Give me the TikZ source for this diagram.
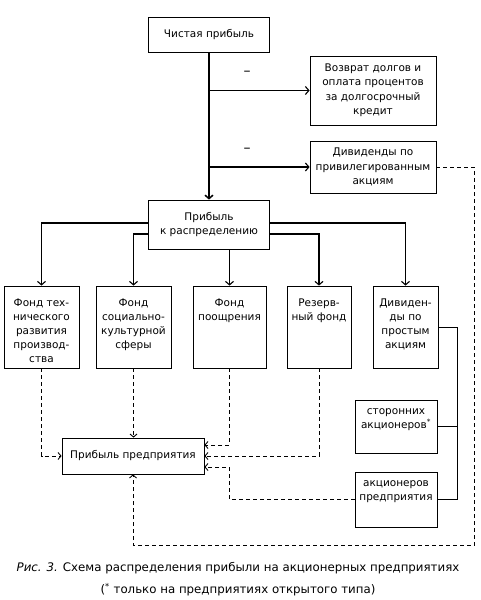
\documentclass[tikz,border=0pt]{standalone}
\usepackage{fontspec}
\setmainfont{DejaVu Sans}
\usetikzlibrary{arrows.meta,positioning}
\tikzstyle{blk} = [draw, line width=0.8pt, align=center, inner sep=0pt, font=\fontsize{10.5}{14.5}\selectfont]
\tikzstyle{fund} = [draw, line width=0.8pt, inner sep=0pt, font=\fontsize{10.5}{14}\selectfont]
\tikzstyle{caption} = [align=center, font=\fontsize{11.8}{22}\selectfont]
\tikzstyle{minus} = [font=\fontsize{14}{14}\selectfont, inner sep=0pt]
\tikzstyle{arrow} = [draw, line width=1.1pt, -{Straight Barb[length=3.5pt,width=8pt]}]
\tikzstyle{trunk} = [arrow, line width=1.5pt]
\tikzstyle{dashline} = [draw, line width=0.9pt, dash pattern=on 4pt off 3pt, -{Straight Barb[length=3pt,width=7pt]}]
\tikzstyle{link} = [draw, line width=0.8pt]
\newcommand{\blk}[4]{node (#1) [blk, minimum width=#2, minimum height=#3] {#4}}
\newcommand{\fund}[3]{node (f#1) [fund] {\parbox[c][82pt][t]{#2}{\centering\vspace*{13pt}#3}}}
\newcommand{\holder}[3]{node (#1) [fund] {\parbox[c][#2][t]{82pt}{\centering\vspace*{9pt}#3}}}
\begin{document}
\begin{tikzpicture}[x=1pt,y=-1pt]
\useasboundingbox (0,0) rectangle (481,600);
\path (209,34.5) \blk{net}{121pt}{35pt}{Чистая прибыль};
\path (net)+(164,56) \blk{debt}{126pt}{69pt}{Возврат долгов и\\оплата процентов\\за долгосрочный\\кредит};
\path (debt)+(0,76.5) \blk{pref}{126pt}{52pt}{Дивиденды по\\привилегированным\\акциям};
\path (net)+(0,190) \blk{dist}{121pt}{49pt}{Прибыль\\к распределению};
\path [trunk] (net.south) -- (dist.north);
\path [arrow] (net.south |- debt.west) -- (debt.west) node[minus, pos=0.38, above=14pt] (m1) {–};
\path [arrow] (net.south |- pref.west) -- (pref.west) node[minus, pos=0.38, above=14pt] (m2) {–};

% funds
\path (dist)+(-167.5,102.5) \fund{1}{75pt}{Фонд тех-\\нического\\развития\\производ-\\ства};
\path (f1)+(92,0) \fund{2}{75pt}{Фонд\\социально-\\культурной\\сферы};
\path (f2)+(96,0) \fund{3}{73pt}{Фонд\\поощрения};
\path (f3)+(89.5,0) \fund{4}{64pt}{Резерв-\\ный фонд};
\path (f4)+(86.5,0) \fund{5}{65pt}{Дивиден-\\ды по\\простым\\акциям};
\path [arrow] ([yshift=1.5pt]dist.west) -| (f1.north);
\path [arrow] ([yshift=-9.5pt]dist.west) -| (f2.north);
\path [arrow] (dist.south -| f3.north) -- (f3.north);
\path [arrow] ([yshift=-9.5pt]dist.east) -| (f4.north);
\path [arrow] ([yshift=1.5pt]dist.east) -| (f5.north);

% profit of the enterprise
\path (f2)+(-0.5,129) \blk{ent}{142pt}{36pt}{Прибыль предприятия};
\path (f5)+(-9.5,99.5) \holder{ext}{53pt}{сторонних\\акционеров\textsuperscript{*}};
\path (ext)+(0,73) \holder{own}{55pt}{акционеров\\предприятия};
\path [dashline] (f1.south) |- (ent.west);
\path [dashline] (f2.south) -- (f2.south |- ent.north);
\path [dashline] (f3.south) |- ([yshift=11pt]ent.east);
\path [dashline] (f4.south) |- (ent.east);
\coordinate (e3) at ([yshift=-11pt]ent.east);
\path [dashline] (own.west) -| (e3 -| f3.south) -- (e3);
\coordinate (cr) at ([xshift=38pt]pref.east);
\coordinate (cb) at ([yshift=-18pt]own.south -| cr);
\path [dashline] (pref.east) -- (cr) -- (cb) -| (ent.south);
\coordinate (cv) at ([xshift=19pt]f5.east);
\path [link] (f5.east) -- (cv) |- (own.east);
\path [link] (cv |- ext.east) -- (ext.east);

\path (ent)+(105,123) node (cap) [caption] {\textit{Рис. 3.} Схема распределения прибыли на акционерных предприятиях\\(\textsuperscript{*} только на предприятиях открытого типа)};
\end{tikzpicture}
\end{document}
